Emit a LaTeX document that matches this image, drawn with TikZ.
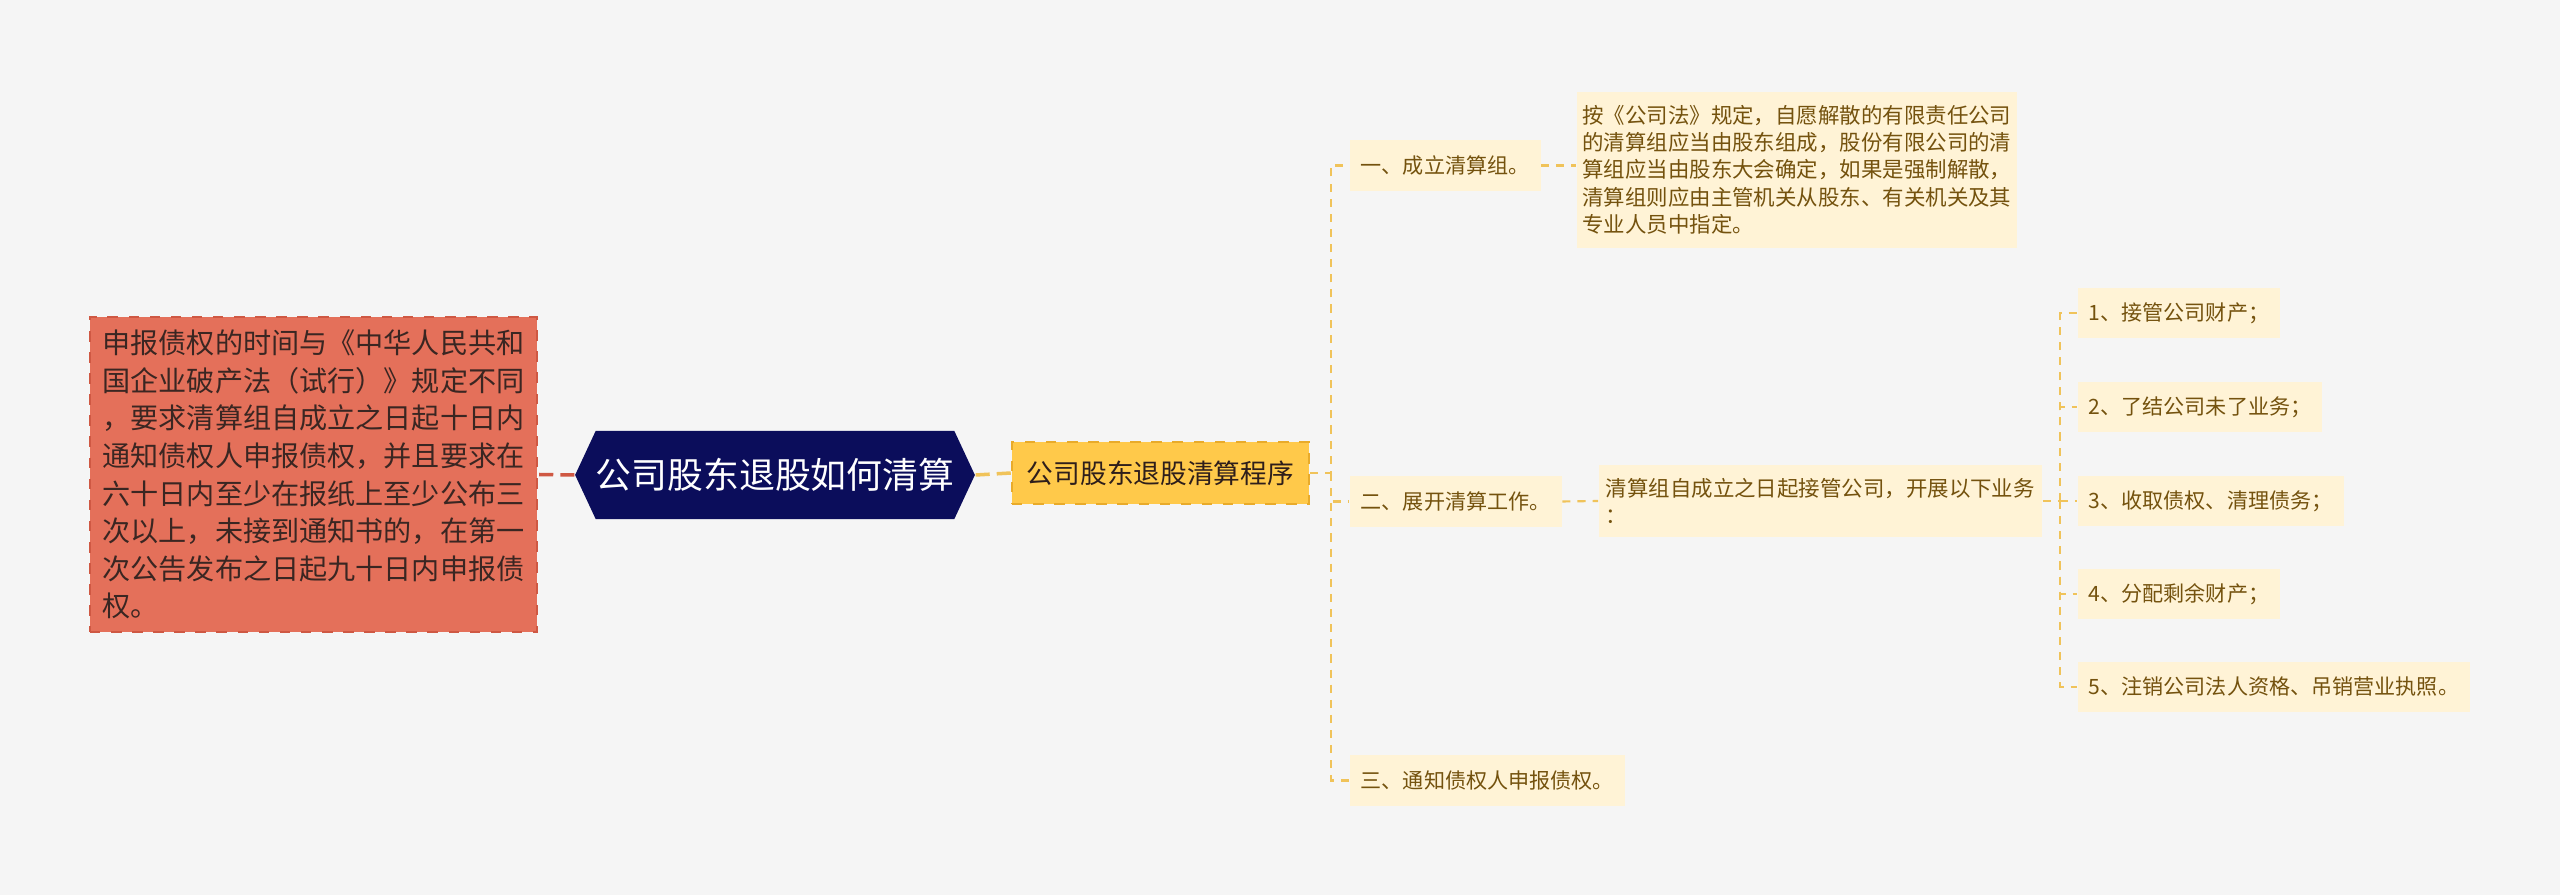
\documentclass[tikz,border=0pt]{standalone}
\usepackage{fontspec}
\newfontfamily\cjk{Noto Sans CJK SC}
\usepackage{tikz}
\usetikzlibrary{shapes.symbols, positioning, calc}
\usepackage{xcolor}
\definecolor{bgcol}{HTML}{F5F5F5}
\definecolor{redfill}{HTML}{E4705A}
\definecolor{redline}{HTML}{CF5843}
\definecolor{redtext}{HTML}{3A2622}
\definecolor{navy}{HTML}{0B0D5B}
\definecolor{gold}{HTML}{FFC94A}
\definecolor{goldline}{HTML}{E9AB2A}
\definecolor{cream}{HTML}{FFF3D6}
\definecolor{brown}{HTML}{74520E}
\definecolor{linkcol}{HTML}{F0C35A}

\begin{document}
\begin{tikzpicture}[
    x=0.01cm, y=-0.01cm,
    every node/.style={font=\cjk, inner sep=0pt},
    redbox/.style={draw=redline, fill=redfill, dashed, line width=0.5pt, text=redtext,
        minimum width=4.47cm, minimum height=3.15cm, align=left,
        font=\cjk\fontsize{8}{10.7}\selectfont},
    titlebox/.style={signal, signal to=west and east, signal pointer angle=130, fill=navy, text=white,
        minimum width=3.99cm, minimum height=0.88cm, font=\cjk\fontsize{10.2}{12}\selectfont},
    progbox/.style={draw=goldline, fill=gold, dashed, line width=0.5pt, text=redtext!80!black,
        minimum width=2.97cm, minimum height=0.62cm, font=\cjk\fontsize{7.6}{9}\selectfont},
    stepnode/.style={fill=cream, text=brown, anchor=west, inner xsep=0.11cm,
        minimum height=0.50cm, font=\cjk\fontsize{6.0}{7.7}\selectfont},
    note/.style={fill=cream, text=brown, align=left,
        font=\cjk\fontsize{6.1}{7.7}\selectfont},
    link/.style={draw=linkcol, line width=0.6pt, dash pattern=on 2.3pt off 2pt}
]
    % canvas
    \fill[bgcol] (0,0) rectangle (2560,895);
    \useasboundingbox (0,0) rectangle (2560,895);

    % centre and left side
    \node[titlebox] (title) at (775,475) {公司股东退股如何清算};
    \node[redbox] (claim) at (313.5,474.5) {申报债权的时间与《中华人民共和\\国企业破产法（试行）》规定不同\\，要求清算组自成立之日起十日内\\通知债权人申报债权，并且要求在\\六十日内至少在报纸上至少公布三\\次以上，未接到通知书的，在第一\\次公告发布之日起九十日内申报债\\权。};
    \node[progbox] (prog) at (1160.5,473) {公司股东退股清算程序};

    \draw[redline, line width=1pt, dash pattern=on 4pt off 2pt] (title.west) -- (claim.east);
    \draw[link, line width=1pt, dash pattern=on 4pt off 2pt] (title.east) -- (prog.west);

    % steps
    \node[stepnode] (s1) at (1349,165.5) {一、成立清算组。};
    \node[stepnode] (s2) at (1349,501.5) {二、展开清算工作。};
    \node[stepnode] (s3) at (1349,780.5) {三、通知债权人申报债权。};

    \coordinate (spine) at (1331,473);
    \draw[link] (prog.east) -- (spine) |- (s1.west);
    \draw[link] (spine) |- (s2.west);
    \draw[link] (spine) |- (s3.west);

    % notes
    \node[note, anchor=north west, minimum width=4.40cm, minimum height=1.56cm] (n1) at (1576,91) {按《公司法》规定，自愿解散的有限责任公司\\的清算组应当由股东组成，股份有限公司的清\\算组应当由股东大会确定，如果是强制解散，\\清算组则应由主管机关从股东、有关机关及其\\专业人员中指定。};
    \node[note, anchor=west, minimum width=4.43cm, minimum height=0.72cm] (n2) at (1598,501) {清算组自成立之日起接管公司，开展以下业务\\：};

    \draw[link] (s1.east) -- (s1.east -| n1.west);
    \draw[link] (s2.east) -- (n2.west);

    % tasks
    \node[stepnode] (t1) at (2077,313) {1、接管公司财产；};
    \node[stepnode] (t2) at (2077,407) {2、了结公司未了业务；};
    \node[stepnode] (t3) at (2077,501) {3、收取债权、清理债务；};
    \node[stepnode] (t4) at (2077,594) {4、分配剩余财产；};
    \node[stepnode] (t5) at (2077,687) {5、注销公司法人资格、吊销营业执照。};

    \coordinate (spine2) at (2060,501);
    \draw[link] (n2.east) -- (spine2);
    \foreach \t in {t1,t2,t3,t4,t5}
        \draw[link] (spine2) |- (\t.west);
\end{tikzpicture}
\end{document}
